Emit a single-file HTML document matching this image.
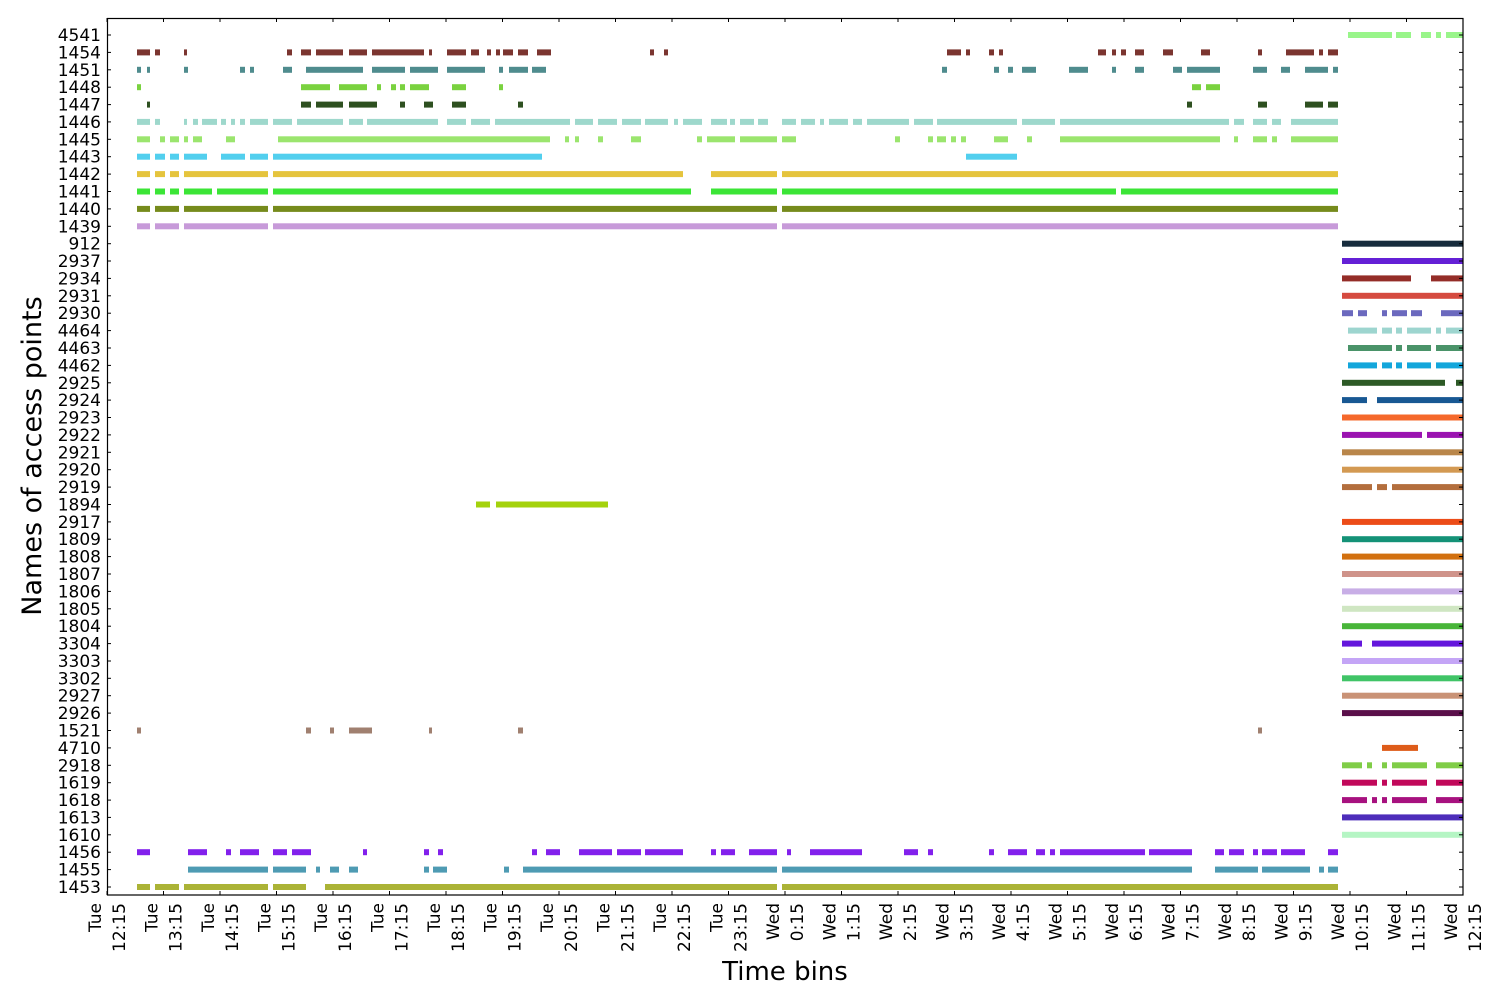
<!DOCTYPE html>
<html><head><meta charset="utf-8">
<style>
html,body{margin:0;padding:0;background:#fff;width:1500px;height:1000px;overflow:hidden}
svg{display:block}
text{font-family:"DejaVu Sans","Liberation Sans",sans-serif;fill:#000}
</style></head>
<body>
<svg id="s" width="1500" height="1000" xmlns="http://www.w3.org/2000/svg"></svg>
<script>
var rows=["4541","1454","1451","1448","1447","1446","1445","1443","1442","1441","1440","1439","912","2937","2934","2931","2930","4464","4463","4462","2925","2924","2923","2922","2921","2920","2919","1894","2917","1809","1808","1807","1806","1805","1804","3304","3303","3302","2927","2926","1521","4710","2918","1619","1618","1613","1610","1456","1455","1453"];
var F=[[1342,1463]];
var D={
"4541":["#99f58a",[[1348,1392],[1396,1411],[1421,1431],[1436,1441],[1446,1463]]],
"1454":["#7b3530",[[137,150],[155,160],[184,187],[287,292],[301,311],[316,343],[349,367],[372,424],[429,432],[447,466],[471,479],[487,491],[496,500],[503,513],[518,528],[537,551],[650,654],[664,668],[947,961],[966,970],[989,994],[999,1003],[1098,1106],[1112,1116],[1121,1126],[1135,1144],[1163,1173],[1201,1210],[1258,1262],[1286,1314],[1319,1323],[1328,1338]]],
"1451":["#4f8c8e",[[137,141],[147,150],[184,188],[240,245],[250,254],[283,292],[306,363],[372,405],[410,438],[447,485],[499,503],[509,528],[532,546],[942,947],[994,999],[1008,1013],[1022,1036],[1069,1088],[1112,1116],[1135,1144],[1173,1182],[1187,1220],[1253,1267],[1281,1290],[1305,1328],[1333,1338]]],
"1448":["#7ad23f",[[137,141],[301,330],[339,367],[377,381],[391,396],[400,405],[410,429],[452,466],[499,503],[1192,1201],[1206,1220]]],
"1447":["#2e5020",[[147,150],[301,311],[316,343],[349,377],[400,405],[424,433],[452,466],[518,523],[1187,1192],[1258,1267],[1305,1323],[1328,1338]]],
"1446":["#9ed8cc",[[137,150],[155,160],[184,187],[193,198],[202,217],[221,226],[231,235],[240,245],[250,268],[273,292],[297,343],[349,363],[367,438],[447,466],[471,490],[495,570],[575,593],[598,617],[622,641],[645,668],[674,678],[683,702],[711,727],[730,735],[740,754],[758,768],[782,796],[801,815],[820,824],[829,848],[853,862],[867,909],[914,933],[937,1017],[1022,1055],[1060,1229],[1234,1244],[1253,1267],[1272,1281],[1291,1338]]],
"1445":["#9be56e",[[137,150],[160,165],[170,179],[184,188],[193,202],[226,235],[278,550],[565,569],[575,579],[598,603],[631,641],[697,702],[707,735],[740,777],[782,796],[895,900],[928,933],[937,946],[951,956],[961,966],[994,1008],[1027,1032],[1060,1220],[1234,1238],[1253,1267],[1272,1277],[1291,1338]]],
"1443":["#52cfee",[[137,150],[155,165],[170,179],[184,207],[221,245],[250,268],[273,542],[966,1017]]],
"1442":["#e5c43d",[[137,150],[155,165],[170,179],[184,268],[273,683],[711,777],[782,1338]]],
"1441":["#3be536",[[137,150],[155,165],[170,179],[184,212],[217,268],[273,691],[711,777],[782,1116],[1121,1338]]],
"1440":["#768b1c",[[137,150],[155,179],[184,268],[273,777],[782,1338]]],
"1439":["#c79ad9",[[137,150],[155,179],[184,268],[273,777],[782,1338]]],
"912":["#172c3d",F],"2937":["#6420d6",F],
"2934":["#942d28",[[1342,1411],[1431,1463]]],
"2931":["#d54a3f",F],
"2930":["#6b69be",[[1342,1353],[1358,1367],[1382,1387],[1392,1407],[1411,1422],[1441,1463]]],
"4464":["#9dd5cf",[[1348,1377],[1382,1392],[1396,1402],[1407,1431],[1436,1441],[1446,1463]]],
"4463":["#4a9369",[[1348,1392],[1396,1402],[1407,1431],[1436,1463]]],
"4462":["#13a6db",[[1348,1377],[1382,1392],[1396,1402],[1407,1431],[1436,1463]]],
"2925":["#2d5a26",[[1342,1445],[1456,1463]]],
"2924":["#185893",[[1342,1367],[1377,1463]]],
"2923":["#f5682b",F],
"2922":["#9b13b1",[[1342,1422],[1427,1463]]],
"2921":["#b9864a",F],"2920":["#d39952",F],
"2919":["#b36e3d",[[1342,1372],[1377,1387],[1392,1463]]],
"1894":["#a4d20d",[[476,490],[496,608]]],
"2917":["#ec4c18",F],"1809":["#149277",F],"1808":["#d2700f",F],"1807":["#cf938a",F],"1806":["#c8aee6",F],"1805":["#cfe6c2",F],"1804":["#48b539",F],
"3304":["#6417dc",[[1342,1362],[1372,1463]]],
"3303":["#c4a5f6",F],"3302":["#40c467",F],"2927":["#c99276",F],"2926":["#5a0f4a",F],
"1521":["#a08070",[[137,141],[306,311],[330,334],[349,372],[429,432],[518,523],[1258,1262]]],
"4710":["#de5c1a",[[1382,1418]]],
"2918":["#80cd47",[[1342,1362],[1367,1372],[1382,1387],[1392,1427],[1436,1463]]],
"1619":["#c1085a",[[1342,1377],[1382,1387],[1392,1427],[1436,1463]]],
"1618":["#a7117f",[[1342,1367],[1372,1377],[1382,1387],[1392,1427],[1436,1463]]],
"1613":["#4d2dba",F],"1610":["#b5f5c4",F],
"1456":["#8220ec",[[137,150],[188,207],[226,231],[240,259],[273,287],[292,311],[363,367],[424,429],[438,443],[532,537],[546,560],[579,612],[617,641],[645,683],[711,716],[721,735],[749,777],[787,791],[810,862],[904,918],[928,933],[989,994],[1008,1027],[1036,1045],[1050,1055],[1060,1145],[1149,1192],[1215,1224],[1229,1244],[1253,1258],[1262,1277],[1281,1305],[1328,1338]]],
"1455":["#4e9bb3",[[188,268],[273,306],[316,320],[330,339],[349,358],[424,429],[433,447],[504,509],[523,777],[782,1192],[1215,1258],[1262,1310],[1319,1324],[1328,1338]]],
"1453":["#abb336",[[137,150],[155,179],[184,268],[273,306],[325,777],[782,1338]]]
};
var h='';
function Y(i){return 35+i*(887-35)/49;}
rows.forEach(function(r,i){
  var d=D[r],y=Y(i);
  if(d){d[1].forEach(function(s){h+='<rect x="'+s[0]+'" y="'+(y-3).toFixed(1)+'" width="'+(s[1]-s[0])+'" height="6" fill="'+d[0]+'"/>';});}
  h+='<line x1="107" x2="111" y1="'+y.toFixed(1)+'" y2="'+y.toFixed(1)+'" stroke="#000"/>';
  h+='<line x1="1459" x2="1463" y1="'+y.toFixed(1)+'" y2="'+y.toFixed(1)+'" stroke="#000"/>';
  h+='<text x="101" y="'+(y+6).toFixed(1)+'" font-size="17" text-anchor="end">'+r+'</text>';
});
for(var k=0;k<=24;k++){
  var x=107+k*(1356/24);
  h+='<line x1="'+x.toFixed(1)+'" x2="'+x.toFixed(1)+'" y1="18" y2="22" stroke="#000"/>';
  h+='<line x1="'+x.toFixed(1)+'" x2="'+x.toFixed(1)+'" y1="891" y2="895" stroke="#000"/>';
  var hr=(12+k)%24, day=k<12?'Tue':'Wed', lab=hr+':15';
  var x1=x-6,x2=x+18;
  h+='<text font-size="17" text-anchor="end" transform="translate('+x1.toFixed(1)+',903) rotate(-90)">'+day+'</text>';
  h+='<text font-size="17" text-anchor="end" transform="translate('+x2.toFixed(1)+',903) rotate(-90)">'+lab+'</text>';
}
h+='<rect x="107.5" y="18.5" width="1355.5" height="876.5" fill="none" stroke="#000" stroke-width="1.2"/>';
h+='<text x="785" y="980" font-size="26" text-anchor="middle">Time bins</text>';
h+='<text font-size="27" text-anchor="middle" transform="translate(41,456) rotate(-90)">Names of access points</text>';
document.getElementById('s').innerHTML=h;
</script>
</body></html>
